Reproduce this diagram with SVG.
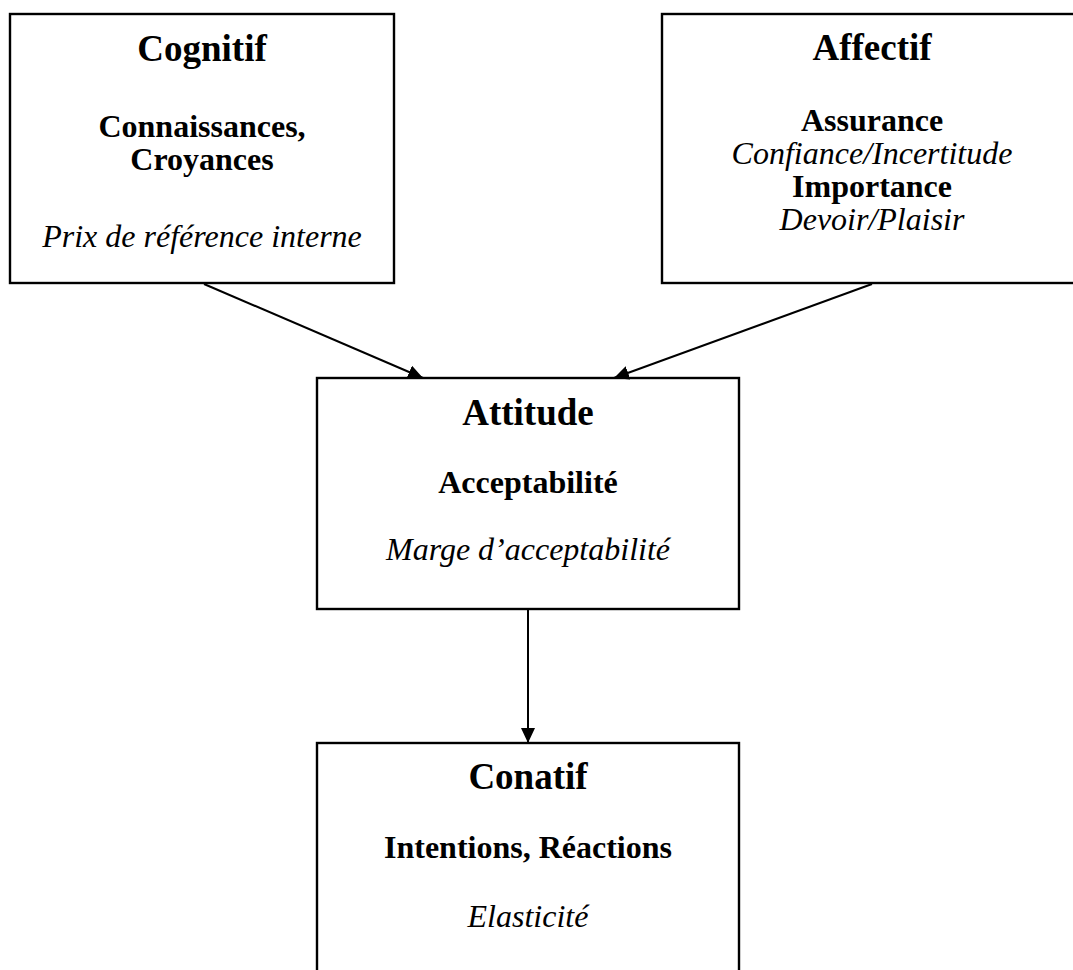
<svg xmlns="http://www.w3.org/2000/svg" width="1073" height="970" viewBox="0 0 1073 970">
<style>
  .box { fill: #ffffff; stroke: #000000; stroke-width: 2.4; }
  .t { font-family: "Liberation Serif", "Times New Roman", serif; fill: #000000; text-anchor: middle; }
  .title { font-size: 37px; font-weight: bold; }
  .b { font-size: 32px; font-weight: bold; }
  .i { font-size: 32px; font-style: italic; }
  .edge { stroke: #000000; stroke-width: 2; fill: none; }
</style>
<defs>
  <marker id="arrow" markerUnits="userSpaceOnUse" markerWidth="16" markerHeight="14" refX="15" refY="7" orient="auto">
    <path d="M0,0 L15,7 L0,14 Z" fill="#000000"/>
  </marker>
</defs>
<rect x="0" y="0" width="1073" height="970" fill="#ffffff"/>
<g id="cognitif">
  <rect class="box" x="10" y="14" width="384" height="269"/>
  <text class="t title" x="202" y="61">Cognitif</text>
  <text class="t b" x="202" y="137">Connaissances,</text>
  <text class="t b" x="202" y="170">Croyances</text>
  <text class="t i" x="202" y="247">Prix de référence interne</text>
</g>
<g id="affectif">
  <rect class="box" x="662" y="14" width="430" height="269"/>
  <text class="t title" x="872" y="60">Affectif</text>
  <text class="t b" x="872" y="131">Assurance</text>
  <text class="t i" x="872" y="164">Confiance/Incertitude</text>
  <text class="t b" x="872" y="197">Importance</text>
  <text class="t i" x="872" y="230">Devoir/Plaisir</text>
</g>
<g id="attitude">
  <rect class="box" x="317" y="378" width="422" height="231"/>
  <text class="t title" x="528" y="425">Attitude</text>
  <text class="t b" x="528" y="493">Acceptabilité</text>
  <text class="t i" x="528" y="560">Marge d’acceptabilité</text>
</g>
<g id="conatif">
  <rect class="box" x="317" y="743" width="422" height="260"/>
  <text class="t title" x="528" y="789">Conatif</text>
  <text class="t b" x="528" y="858">Intentions, Réactions</text>
  <text class="t i" x="528" y="927">Elasticité</text>
</g>
<g id="connectors">
  <line class="edge" x1="204" y1="284" x2="423" y2="378" marker-end="url(#arrow)"/>
  <line class="edge" x1="872" y1="284" x2="614" y2="378" marker-end="url(#arrow)"/>
  <line class="edge" x1="528" y1="610" x2="528" y2="743" marker-end="url(#arrow)"/>
</g>
</svg>
